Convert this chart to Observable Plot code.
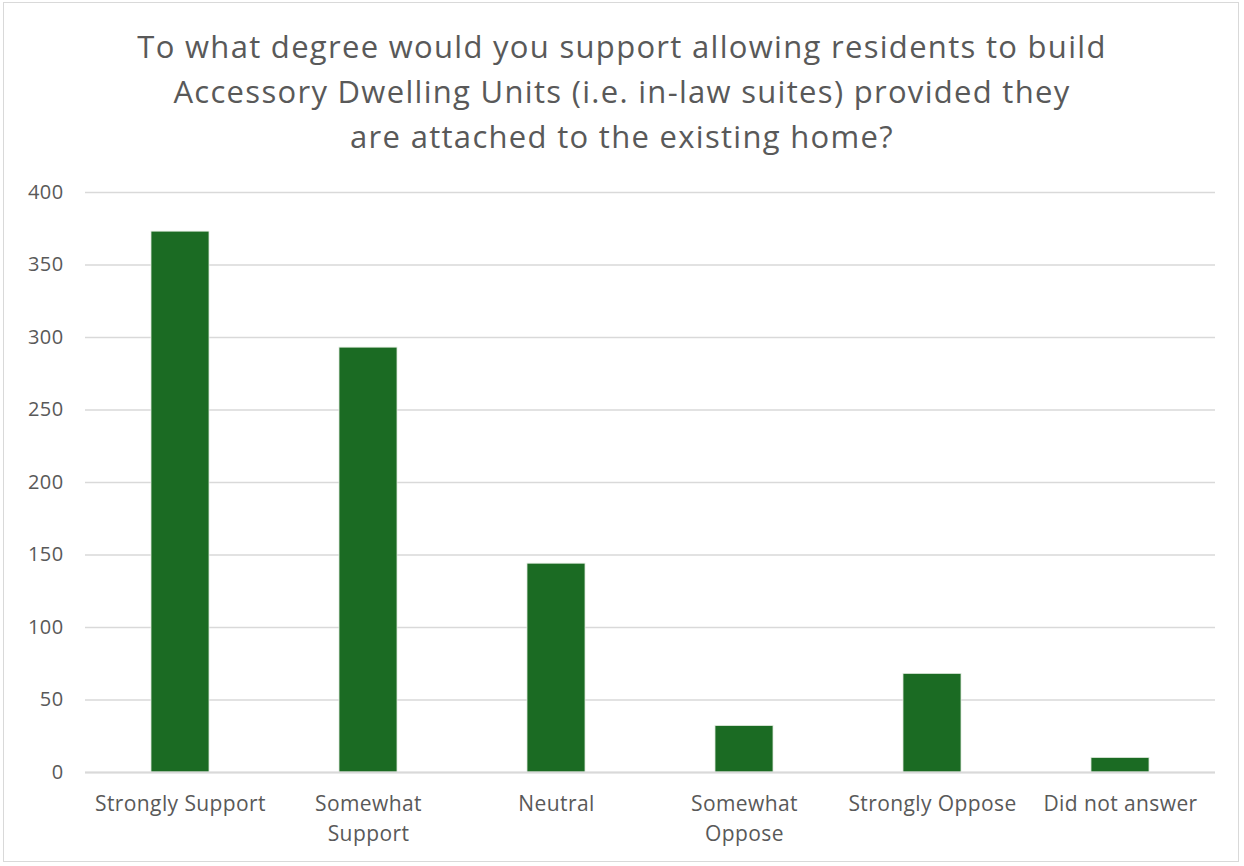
<!DOCTYPE html>
<html>
<head>
<meta charset="utf-8">
<script src="https://cdn.jsdelivr.net/npm/d3@7"></script>
<script src="https://cdn.jsdelivr.net/npm/@observablehq/plot@0.6"></script>
<style>
  html, body { margin: 0; padding: 0; background: #fff; }
  #frame { position: relative; width: 1244px; height: 866px; overflow: hidden; font-family: "Open Sans", sans-serif; }
  #border { position: absolute; left: 3px; top: 2px; width: 1236px; height: 860px; border: 1.5px solid #d9d9d9; box-sizing: border-box; pointer-events: none; }
  #title { position: absolute; left: 0; top: 24px; width: 1244px; text-align: center; color: #595959; font-size: 31px; letter-spacing: 1.3px; line-height: 45px; }
  #chart { position: absolute; left: 0; top: 170px; }
  #chart svg text { letter-spacing: 0.4px; }
</style>
</head>
<body>
<div id="frame">
  <div id="title">To what degree would you support allowing residents to build<br>Accessory Dwelling Units (i.e. in-law suites) provided they<br>are attached to the existing home?</div>
  <div id="chart"></div>
  <div id="border"></div>
</div>
<script>
const categories = ["Strongly Support", "Somewhat Support", "Neutral", "Somewhat Oppose", "Strongly Oppose", "Did not answer"];
const counts = [373, 293, 144, 32, 68, 10];
const tickLabels = {"Strongly Support": "Strongly Support", "Somewhat Support": "Somewhat\nSupport", "Neutral": "Neutral", "Somewhat Oppose": "Somewhat\nOppose", "Strongly Oppose": "Strongly Oppose", "Did not answer": "Did not answer"};
const yTicks = [0, 50, 100, 150, 200, 250, 300, 350, 400];

const data = categories.map((c, i) => ({category: c, count: counts[i]}));

const chart = Plot.plot({
  width: 1244,
  height: 696,
  marginLeft: 85,
  marginRight: 29,
  marginTop: 22,
  marginBottom: 94,
  style: {fontFamily: "Open Sans, sans-serif", fontSize: "20px", color: "#595959", background: "transparent"},
  x: {domain: categories, paddingInner: 0.69, paddingOuter: 0.345, label: null},
  y: {domain: [0, 400], label: null},
  marks: [
    Plot.gridY(yTicks, {stroke: "#d9d9d9", strokeOpacity: 1, strokeWidth: 1.5}),
    Plot.barY(data, {x: "category", y: "count", fill: "#1b6b23", stroke: "#dfe9dd", strokeWidth: 0.8}),
    Plot.ruleY([0], {stroke: "#d9d9d9", strokeWidth: 2}),
    Plot.axisY({ticks: yTicks, tickSize: 0, tickPadding: 22, fill: "#595959", fontSize: 20, label: null}),
    Plot.axisX({tickSize: 0, tickPadding: 18, tickFormat: d => tickLabels[d], fill: "#595959", fontSize: 21, lineHeight: 1.4, label: null})
  ]
});
document.getElementById("chart").appendChild(chart);
</script>
</body>
</html>
